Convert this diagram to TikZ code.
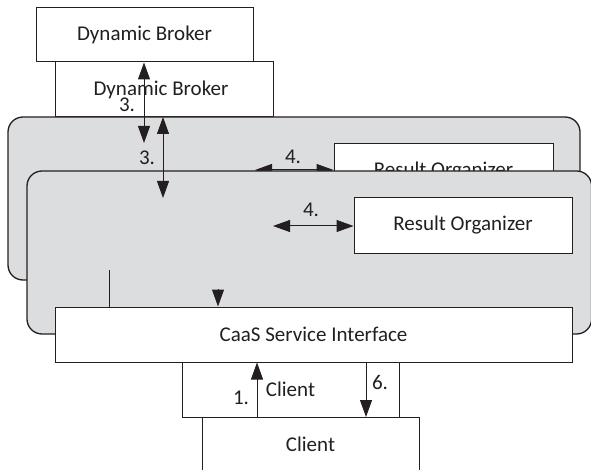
\documentclass[tikz,border=0pt]{standalone}
\usepackage{fontspec}
\setmainfont{Carlito}
\usetikzlibrary{arrows.meta}
\definecolor{panelgray}{RGB}{220,221,223}
\definecolor{linegray}{RGB}{35,31,32}
\begin{document}
\begin{tikzpicture}[x=1pt,y=-1pt,
  box/.style={draw=linegray,line width=1pt,fill=white,rectangle,inner sep=0pt,
    font=\fontsize{21}{25}\selectfont,text=linegray},
  panel/.style={draw=linegray,line width=1.3pt,fill=panelgray,rounded corners=15pt},
  lbl/.style={font=\fontsize{21}{25}\selectfont,text=linegray,inner sep=0pt},
  arr/.style={draw=linegray,line width=1pt,-{Triangle[length=17pt,width=12pt]}},
  darr/.style={draw=linegray,line width=1pt,{Triangle[length=17pt,width=12pt]}-{Triangle[length=17pt,width=12pt]}},
  plain/.style={draw=linegray,line width=1pt}]
\useasboundingbox (0,0) rectangle (591,470);
% Dynamic brokers
\node[box,minimum width=218pt,minimum height=55pt] (db2) at (164,89.5) {};
\node[lbl] (db2t) at (161,90) {Dynamic Broker};
\node[box,minimum width=217pt,minimum height=54pt] (db1) at (144.5,35) {Dynamic Broker};
% back panel
\path[panel] (8,117) rectangle (580,280);
\node[box,minimum width=219pt,minimum height=55pt] (ro2) at (443.5,171.5) {Result Organizer};
\coordinate (a4bs) at (255,170);
\draw[darr] (a4bs) -- (ro2.west |- a4bs);
\node[lbl] (l4b) at (293,157) {4.};
\coordinate (a3ae) at (144,143);
\draw[darr] (db1.south -| a3ae) -- (a3ae);
\node[lbl] (l3a) at (127,105) {3.};
\node[lbl] (l3b) at (147,158) {3.};
% front panel
\path[panel] (27,171) rectangle (591.6,334);
\coordinate (a3bs) at (163,117);
\coordinate (a3be) at (163,198);
\draw[darr] (a3bs) -- (a3be);
\node[box,minimum width=218pt,minimum height=55pt] (ro1) at (463,225.5) {Result Organizer};
\coordinate (a4fs) at (273,226);
\draw[darr] (a4fs) -- (ro1.west |- a4fs);
\node[lbl] (l4f) at (311,210) {4.};
% CaaS
\node[box,minimum width=517pt,minimum height=55pt] (caas) at (313.5,334.5) {CaaS Service Interface};
\coordinate (vl) at (109,270);
\draw[plain] (vl) -- (vl |- caas.north);
\coordinate (ah) at (218,289);
\draw[arr] (ah) -- (ah |- caas.north);
% clients
\node[box,minimum width=217pt,minimum height=55pt] (cl1) at (290.5,389.5) {Client};
\node[box,minimum width=217pt,minimum height=55pt] (cl2) at (310.5,444.5) {Client};
\coordinate (a1) at (257,417);
\draw[arr] (a1) -- (a1 |- caas.south);
\coordinate (a6) at (366,417);
\draw[arr] (caas.south -| a6) -- (a6);
\node[lbl] (l1) at (241,398) {1.};
\node[lbl] (l6) at (380,382) {6.};
\end{tikzpicture}
\end{document}
